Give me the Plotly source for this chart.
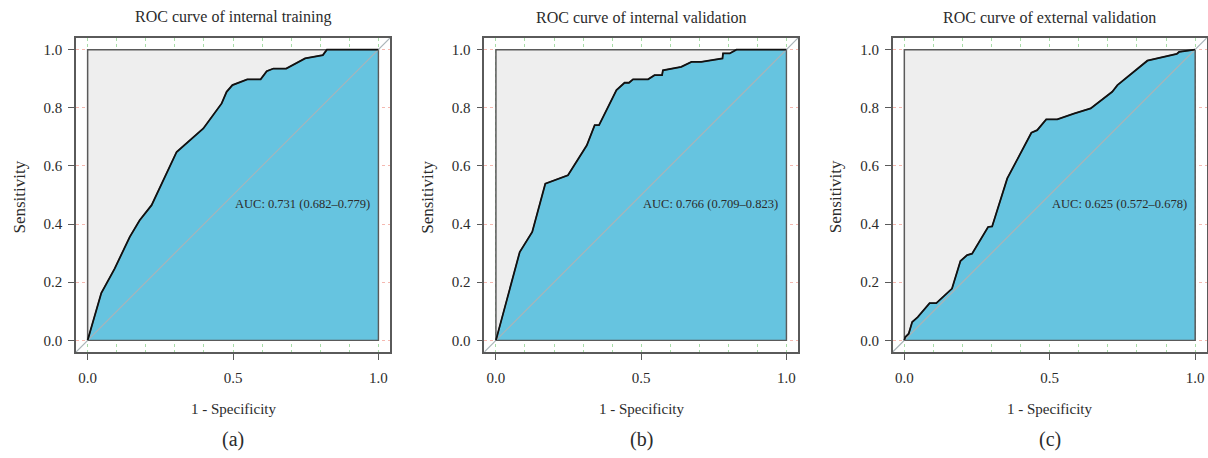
import plotly.graph_objects as go

W, H = 1208, 458

titles = ["ROC curve of internal training", "ROC curve of internal validation", "ROC curve of external validation"]
panel_labels = ["(a)", "(b)", "(c)"]
auc_texts = ["AUC: 0.731 (0.682\u20130.779)", "AUC: 0.766 (0.709\u20130.823)", "AUC: 0.625 (0.572\u20130.678)"]

# 1 - specificity (x) and sensitivity (y)
fpr_a = [0.0, 0.047, 0.093, 0.145, 0.179, 0.220, 0.306, 0.398, 0.461, 0.478, 0.498, 0.522, 0.549,
         0.595, 0.616, 0.639, 0.683, 0.748, 0.809, 0.823, 1.0]
tpr_a = [0.0, 0.163, 0.247, 0.356, 0.413, 0.465, 0.648, 0.729, 0.815, 0.855, 0.878, 0.888, 0.898,
         0.898, 0.926, 0.935, 0.935, 0.970, 0.981, 1.0, 1.0]

fpr_b = [0.0, 0.082, 0.125, 0.170, 0.248, 0.313, 0.340, 0.355, 0.415, 0.443, 0.458, 0.472, 0.524,
         0.546, 0.572, 0.575, 0.638, 0.673, 0.707, 0.780, 0.782, 0.805, 0.828, 1.0]
tpr_b = [0.0, 0.304, 0.373, 0.539, 0.568, 0.671, 0.740, 0.740, 0.861, 0.886, 0.886, 0.898, 0.898,
         0.912, 0.912, 0.929, 0.941, 0.958, 0.958, 0.970, 0.987, 0.987, 1.0, 1.0]

fpr_c = [0.0, 0.003, 0.015, 0.027, 0.046, 0.087, 0.110, 0.164, 0.193, 0.216, 0.233, 0.285, 0.288,
         0.302, 0.354, 0.437, 0.457, 0.488, 0.526, 0.583, 0.641, 0.715, 0.733, 0.836, 0.937,
         0.945, 1.0]
tpr_c = [0.0, 0.011, 0.023, 0.063, 0.080, 0.128, 0.128, 0.178, 0.273, 0.293, 0.298, 0.384, 0.390,
         0.392, 0.557, 0.714, 0.723, 0.760, 0.760, 0.780, 0.798, 0.855, 0.878, 0.962, 0.985,
         0.992, 1.0]

curves = [(fpr_a, tpr_a), (fpr_b, tpr_b), (fpr_c, tpr_c)]

y_ticks = [0.0, 0.2, 0.4, 0.6, 0.8, 1.0]
x_ticks = [0.0, 0.5, 1.0]

# layout geometry (pixels)
box_left = [76, 484.3, 892.7]
box_right = [390, 798, 1206.7]
box_top, box_bottom = 38, 352

FONT = "Liberation Serif"
TXT = "#2b2b2b"
BLUE = "#66C4E0"
GRAY_FILL = "#EEEEEE"
EDGE = "#5a5a5a"

fig = go.Figure()
ydom = [1 - box_bottom / H, 1 - box_top / H]

for i, (fx, ty) in enumerate(curves):
    xa = "x" if i == 0 else f"x{i+1}"
    ya = "y" if i == 0 else f"y{i+1}"
    # max-AUC square
    fig.add_trace(go.Scatter(x=[0, 0, 1, 1, 0], y=[0, 1, 1, 0, 0], mode="lines", fill="toself",
                             fillcolor=GRAY_FILL, line=dict(color=EDGE, width=1.5),
                             hoverinfo="skip", showlegend=False, xaxis=xa, yaxis=ya))
    # AUC polygon
    fig.add_trace(go.Scatter(x=fx + [1, 0], y=ty + [0, 0], mode="lines", fill="toself",
                             fillcolor=BLUE, line=dict(color=EDGE, width=1.3),
                             hoverinfo="skip", showlegend=False, xaxis=xa, yaxis=ya))
    # diagonal
    fig.add_trace(go.Scatter(x=[-0.04, 1.04], y=[-0.04, 1.04], mode="lines",
                             line=dict(color="#a9b4b8", width=1.2),
                             hoverinfo="skip", showlegend=False, xaxis=xa, yaxis=ya))
    # ROC curve
    fig.add_trace(go.Scatter(x=fx, y=ty, mode="lines", line=dict(color="#111111", width=1.8),
                             showlegend=False, xaxis=xa, yaxis=ya))

    xdom = [box_left[i] / W, box_right[i] / W]
    common = dict(showline=True, mirror=True, linecolor=EDGE, linewidth=1.5,
                  zeroline=False, ticks="outside", ticklen=6, tickcolor=EDGE, tickwidth=1.2,
                  tickfont=dict(family=FONT, size=15, color=TXT), automargin=False,
                  fixedrange=True)
    fig.layout[f"xaxis{'' if i == 0 else i+1}"] = dict(
        domain=xdom, anchor=ya, range=[-0.04, 1.04], tickvals=x_ticks,
        ticktext=[f"{v:.1f}" for v in x_ticks], showgrid=True, gridcolor="#a8dca8",
        griddash="dot", gridwidth=1,
        minor=dict(dtick=0.1, tick0=0, showgrid=True, gridcolor="#a8dca8", griddash="dot",
                   gridwidth=1, ticks=""),
        ticklabelstandoff=5, **common)
    fig.layout[f"yaxis{'' if i == 0 else i+1}"] = dict(
        domain=ydom, anchor=xa, range=[-0.04, 1.04], tickvals=y_ticks,
        ticktext=[f"{v:.1f}" for v in y_ticks], showgrid=True, gridcolor="#f5b8b0",
        griddash="dot", gridwidth=1, ticklabelstandoff=3, **common)

    inner0 = box_left[i] + (box_right[i] - box_left[i]) * 0.04 / 1.08
    inner1 = box_right[i] - (box_right[i] - box_left[i]) * 0.04 / 1.08
    cx = (inner0 + inner1) / 2 / W
    fig.add_annotation(text=titles[i], xref="paper", yref="paper", x=cx, y=1 - 17 / H,
                       showarrow=False, xanchor="center", yanchor="middle",
                       font=dict(family=FONT, size=16, color=TXT))
    fig.add_annotation(text="1 - Specificity", xref="paper", yref="paper", x=cx, y=1 - 409 / H,
                       showarrow=False, xanchor="center", yanchor="middle",
                       font=dict(family=FONT, size=15, color=TXT))
    fig.add_annotation(text=panel_labels[i], xref="paper", yref="paper", x=cx, y=1 - 439 / H,
                       showarrow=False, xanchor="center", yanchor="middle",
                       font=dict(family=FONT, size=20, color=TXT))
    fig.add_annotation(text="Sensitivity", xref="paper", yref="paper",
                       x=(box_left[i] - 57.5) / W, y=1 - 197 / H, textangle=-90,
                       showarrow=False, xanchor="center", yanchor="middle",
                       font=dict(family=FONT, size=17, color=TXT))
    fig.add_annotation(text=auc_texts[i], xref=xa, yref=ya, x=0.5, y=0.5,
                       showarrow=False, xanchor="left", yanchor="top",
                       font=dict(family=FONT, size=12.5, color=TXT))

fig.update_layout(width=W, height=H, margin=dict(l=0, r=0, t=0, b=0),
                  paper_bgcolor="white", plot_bgcolor="white", showlegend=False)

fig.write_html("out.html", config={"displayModeBar": False},
               post_script="document.body.style.margin='0';")
